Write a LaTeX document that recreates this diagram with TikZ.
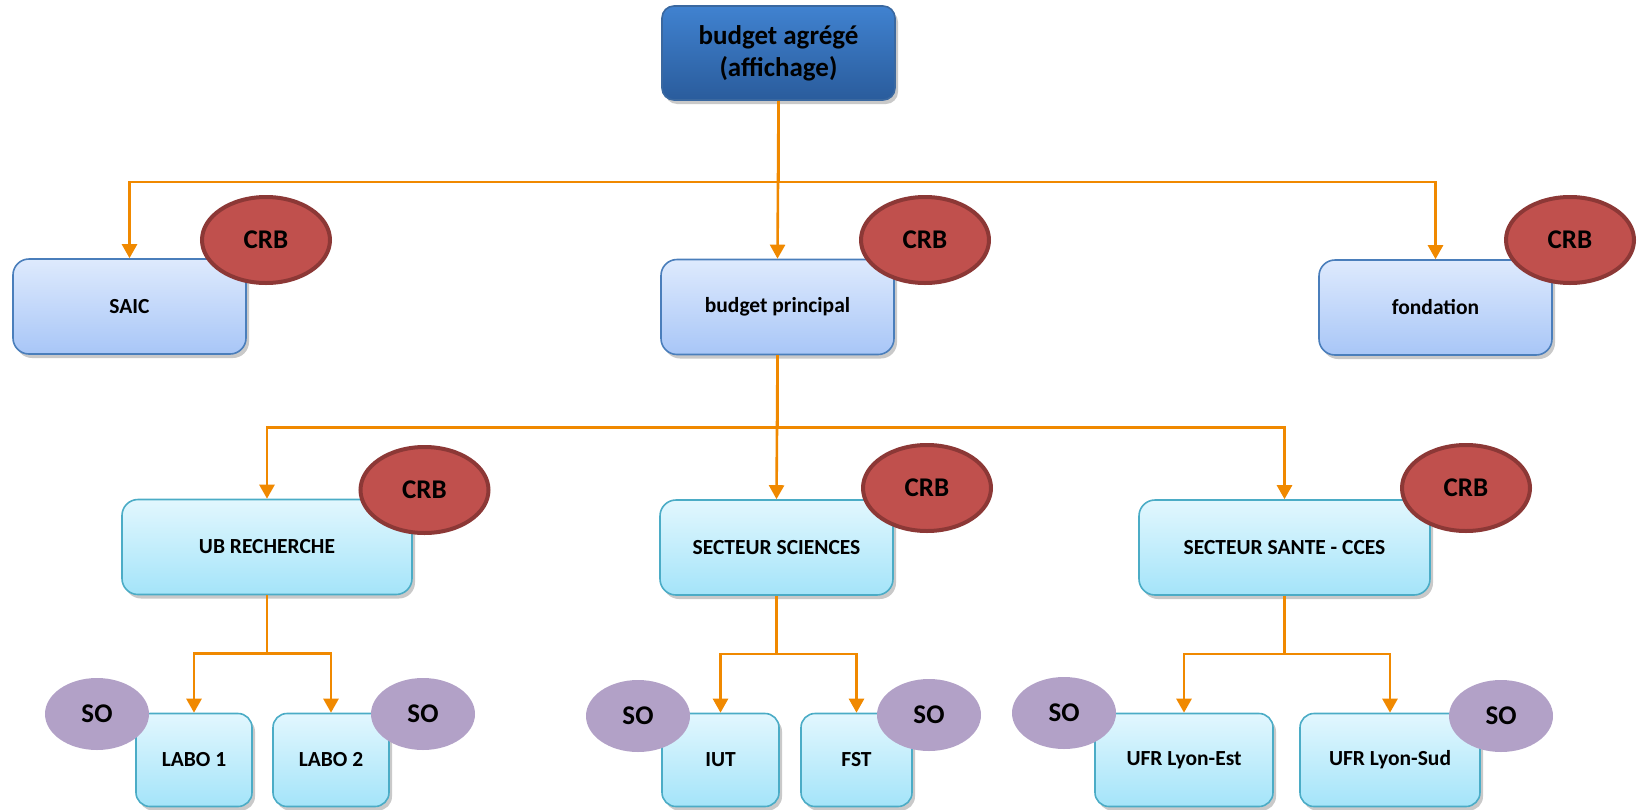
\documentclass[tikz,border=0pt]{standalone}
\usepackage{fontspec}
\setmainfont{Carlito}
\usetikzlibrary{shapes.geometric,arrows.meta,shadows}

\definecolor{lienorange}{RGB}{240,137,0}
\definecolor{crbfill}{RGB}{192,80,77}
\definecolor{crbdraw}{RGB}{140,56,54}
\definecolor{sofill}{RGB}{178,161,199}
\definecolor{tetedraw}{RGB}{58,104,160}

\tikzset{
  boite/.style={rectangle, rounded corners=16pt, line width=1.6pt, inner sep=0pt,
    font=\fontsize{21.5}{26}\selectfont\bfseries, align=center,
    drop shadow={shadow xshift=3pt,shadow yshift=-4pt,opacity=.3,fill=black!70}},
  tete/.style={boite, rounded corners=12pt, draw=tetedraw,
    top color={rgb,255:red,64;green,130;blue,208}, bottom color={rgb,255:red,42;green,92;blue,156},
    minimum width=233pt, minimum height=94pt,
    font=\fontsize{27}{32}\selectfont\bfseries},
  budget/.style={boite, draw={rgb,255:red,74;green,126;blue,187},
    top color={rgb,255:red,222;green,234;blue,253}, bottom color={rgb,255:red,168;green,198;blue,247},
    minimum width=233pt, minimum height=95pt},
  secteur/.style={boite, draw={rgb,255:red,75;green,172;blue,198},
    top color={rgb,255:red,226;green,247;blue,254}, bottom color={rgb,255:red,164;green,228;blue,249},
    minimum height=95pt},
  crb/.style={ellipse, fill=crbfill, draw=crbdraw, line width=4pt, inner sep=0pt,
    minimum width=128pt, minimum height=86pt, font=\fontsize{27}{32}\selectfont\bfseries},
  so/.style={ellipse, fill=sofill, inner sep=0pt,
    minimum width=104pt, minimum height=72pt, font=\fontsize{27}{32}\selectfont\bfseries},
  lien/.style={draw=lienorange, line width=2.6pt, -{Triangle[width=15pt,length=14pt]}}
}

\begin{document}
\begin{tikzpicture}[x=1pt,y=-1pt]
\useasboundingbox (0,0) rectangle (1642,809);

% boites
\node[tete] (agrege) at (778.5,53) {budget agrégé\\(affichage)};
\node[budget] (saic) at (129.5,306.5) {SAIC};
\node[budget] (principal) at (777.5,307) {budget principal};
\node[budget] (fondation) at (1435.5,307.5) {fondation};

\node[secteur, minimum width=290pt] (recherche) at (267,547) {UB RECHERCHE};
\node[secteur, minimum width=233pt] (sciences) at (776.5,547.5) {SECTEUR SCIENCES};
\node[secteur, minimum width=291pt] (sante) at (1284.5,547.5) {SECTEUR SANTE - CCES};

\node[secteur, minimum width=116pt, minimum height=93pt, rounded corners=14pt] (labo1) at (194,760) {LABO 1};
\node[secteur, minimum width=116pt, minimum height=93pt, rounded corners=14pt] (labo2) at (331,760) {LABO 2};
\node[secteur, minimum width=117pt, minimum height=93pt, rounded corners=14pt] (iut) at (720.5,760) {IUT};
\node[secteur, minimum width=111pt, minimum height=93pt, rounded corners=14pt] (fst) at (856.5,760) {FST};
\node[secteur, minimum width=178pt, minimum height=93pt, rounded corners=14pt] (lyonest) at (1184,760) {UFR Lyon-Est};
\node[secteur, minimum width=180pt, minimum height=93pt, rounded corners=14pt] (lyonsud) at (1390,760) {UFR Lyon-Sud};

% liens
\draw[lien] (agrege.south) -- ++(0,81) -| (saic.north);
\draw[lien] (agrege.south) -- (principal.north);
\draw[lien] (agrege.south) -- ++(0,81) -| (fondation.north);

\draw[lien] (principal.south) -- ++(0,72) -| (recherche.north);
\draw[lien] (principal.south) -- (sciences.north);
\draw[lien] (principal.south) -- ++(0,72) -| (sante.north);

\draw[lien] (recherche.south) -- ++(0,58) -| (labo1.north);
\draw[lien] (recherche.south) -- ++(0,58) -| (labo2.north);
\draw[lien] (sciences.south) -- ++(0,58) -| (iut.north);
\draw[lien] (sciences.south) -- ++(0,58) -| (fst.north);
\draw[lien] (sante.south) -- ++(0,58) -| (lyonest.north);
\draw[lien] (sante.south) -- ++(0,58) -| (lyonsud.north);

% etiquettes CRB / SO
\node[crb] (crbsaic) at (266,240) {CRB};
\node[crb] (crbprincipal) at (925,240) {CRB};
\node[crb] (crbfondation) at (1570,240) {CRB};
\node[crb] (crbrecherche) at (424.5,490) {CRB};
\node[crb] (crbsciences) at (927,488) {CRB};
\node[crb] (crbsante) at (1466,488) {CRB};

\node[so] (solabo1) at (97,714) {SO};
\node[so] (solabo2) at (423,714) {SO};
\node[so] (soiut) at (638,716) {SO};
\node[so] (sofst) at (929,715) {SO};
\node[so] (solyonest) at (1064,713) {SO};
\node[so] (solyonsud) at (1501,716) {SO};
\end{tikzpicture}
\end{document}
